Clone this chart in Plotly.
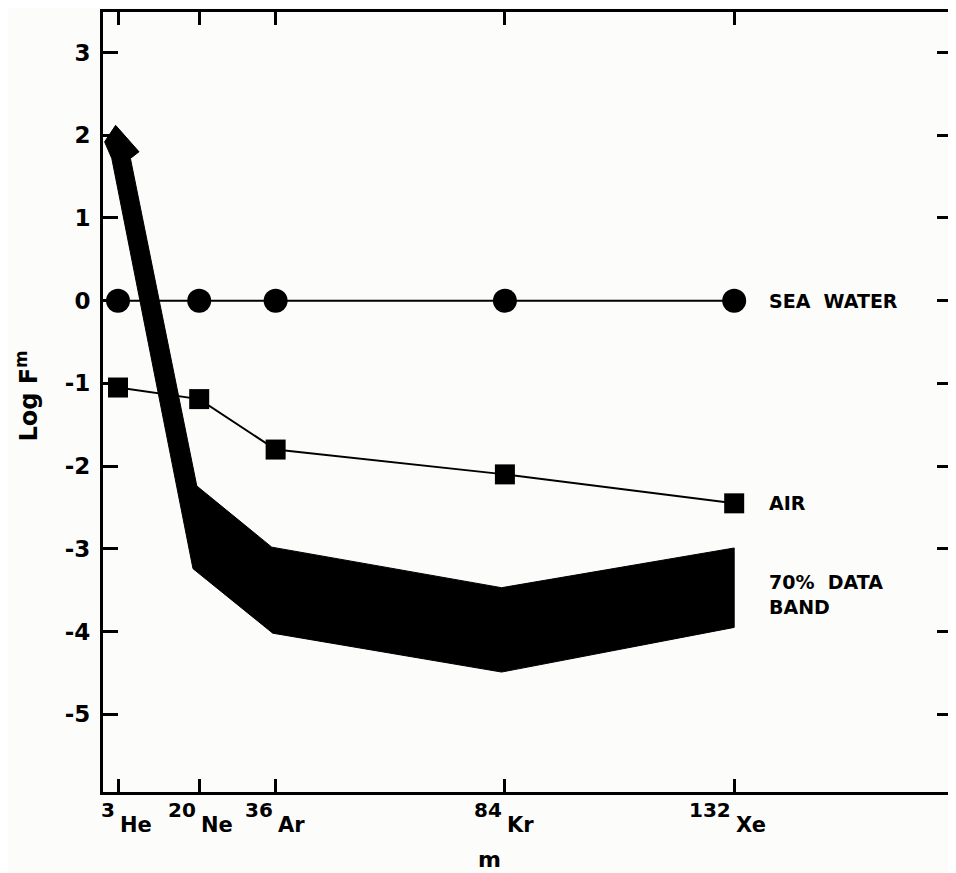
import plotly.graph_objects as go

# ---- data ----
iso_mass = [3, 20, 36, 84, 132]
iso_num = ["3", "20", "36", "84", "132"]
iso_sym = ["He", "Ne", "Ar", "Kr", "Xe"]

sea_water = [0.0, 0.0, 0.0, 0.0, 0.0]
air = [-1.05, -1.19, -1.80, -2.10, -2.45]

# 70% data band (upper edge / lower edge), incl. arrow up to log F ~ 2 at 3He
band_upper_m = [2.5, 7.4, 5.6, 19.5, 35.2, 83.3, 132.0]
band_upper_y = [2.12, 1.80, 1.72, -2.24, -2.98, -3.47, -2.99]
band_lower_m = [132.0, 83.3, 35.4, 18.7, 1.7, 0.2, 2.5]
band_lower_y = [-3.95, -4.49, -4.02, -3.24, 1.72, 1.92, 2.12]

y_ticks = [-5, -4, -3, -2, -1, 0, 1, 2, 3]
y_ticktext = ["-5", "-4", "-3", "-2", "-1", "0", "1", "2", "3"]

FONT = "DejaVu Sans"
INK = "#000000"
BG = "#fcfcfa"

fig = go.Figure()

fig.add_trace(go.Scatter(
    x=iso_mass, y=sea_water, mode="lines+markers",
    line=dict(color=INK, width=2),
    marker=dict(symbol="circle", size=24, color=INK),
    showlegend=False, hoverinfo="skip"))

fig.add_trace(go.Scatter(
    x=iso_mass, y=air, mode="lines+markers",
    line=dict(color=INK, width=2),
    marker=dict(symbol="square", size=20, color=INK),
    showlegend=False, hoverinfo="skip"))

fig.add_trace(go.Scatter(
    x=band_upper_m + band_lower_m, y=band_upper_y + band_lower_y,
    mode="lines", fill="toself", fillcolor=INK,
    line=dict(color=INK, width=1),
    showlegend=False, hoverinfo="skip"))

annotations = []
for m, n, s in zip(iso_mass, iso_num, iso_sym):
    annotations.append(dict(x=m, y=0, xref="x", yref="paper", text=n,
                            xanchor="right", yanchor="top", showarrow=False,
                            xshift=-1, yshift=-4,
                            font=dict(family=FONT, size=20, color=INK, weight="bold")))
    annotations.append(dict(x=m, y=0, xref="x", yref="paper", text=s,
                            xanchor="left", yanchor="top", showarrow=False,
                            xshift=0, yshift=-19,
                            font=dict(family=FONT, size=21, color=INK, weight="bold")))

label_font = dict(family=FONT, size=19, color=INK, weight="bold")
annotations += [
    dict(x=132, y=0, xref="x", yref="y", text="SEA  WATER", xanchor="left",
         yanchor="middle", showarrow=False, xshift=33, font=label_font),
    dict(x=132, y=air[-1], xref="x", yref="y", text="AIR", xanchor="left",
         yanchor="middle", showarrow=False, xshift=33, font=label_font),
    dict(x=132, y=-3.55, xref="x", yref="y", text="70%  DATA<br>BAND", xanchor="left",
         yanchor="middle", align="left", showarrow=False, xshift=33, font=label_font),
    dict(x=-0.0906, y=0.507, xref="paper", yref="paper", text="Log F<sup>m</sup>",
         textangle=-90, showarrow=False, xanchor="center", yanchor="middle",
         font=dict(family=FONT, size=24, color=INK, weight="bold")),
    dict(x=0.455, y=-0.086, xref="paper", yref="paper", text="m",
         showarrow=False, xanchor="center", yanchor="middle",
         font=dict(family=FONT, size=22, color=INK, weight="bold")),
]

fig.update_layout(
    width=948, height=865,
    margin=dict(l=95, r=3, t=1, b=81),
    paper_bgcolor=BG, plot_bgcolor=BG,
    annotations=annotations,
    showlegend=False,
)

fig.update_xaxes(
    range=[-0.14, 177.6], tickvals=iso_mass, showticklabels=False,
    ticks="inside", ticklen=13, tickwidth=2.5, tickcolor=INK,
    showline=True, linecolor=INK, linewidth=3, mirror="ticks",
    showgrid=False, zeroline=False)

fig.update_yaxes(
    range=[-5.94, 3.49], tickvals=y_ticks, ticktext=y_ticktext,
    ticks="inside", ticklen=15, tickwidth=2.5, tickcolor=INK,
    showline=True, linecolor=INK, linewidth=3, mirror="ticks",
    ticklabelstandoff=5,
    tickfont=dict(family=FONT, size=23, color=INK, weight="bold"),
    showgrid=False, zeroline=False)

fig.write_html("out.html")
